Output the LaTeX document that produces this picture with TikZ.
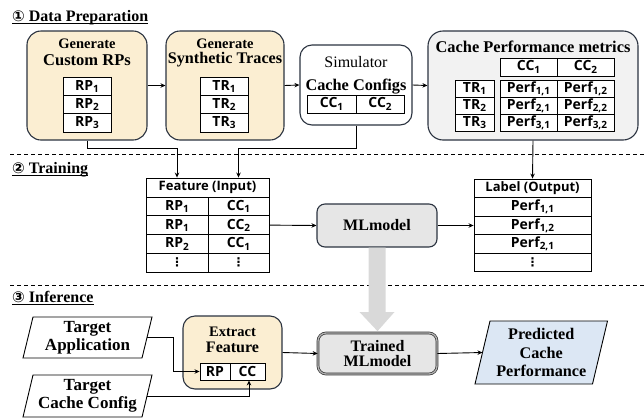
\documentclass[tikz,border=0pt]{standalone}
\usepackage{fontspec}
\setmainfont{Liberation Serif}
\newfontfamily\sansb{Open Sans}[BoldFont={* Bold}]
\newfontfamily\dvs{DejaVu Sans}
\usetikzlibrary{arrows.meta,calc,backgrounds}
\definecolor{bdr}{HTML}{2B3340}
\definecolor{beige}{HTML}{FBEED2}
\definecolor{perfgray}{HTML}{F2F2F2}
\definecolor{mlgray}{HTML}{E6E6E6}
\definecolor{biggray}{HTML}{D9D9D9}
\definecolor{predblue}{HTML}{DCE7F4}
\newcommand\fsz[1]{\fontsize{#1}{#1}\selectfont}
\newcommand\sub[1]{\raisebox{-2.2pt}{\fsz{10}#1}}
\newcommand\vdt{{\dvs\fsz{12}⋮}}
\newcommand\tcell[6]{\node[cell, minimum width=#4pt, minimum height=#5pt] (#1) at (#2,#3) {#6};}
\tikzset{
  beigebox/.style={draw=bdr, line width=1.1pt, fill=beige, rounded corners=14pt, inner sep=0pt},
  cell/.style={draw=black, line width=0.9pt, fill=white, inner sep=0pt, font=\sansb\bfseries\fsz{14}},
  hcell/.style={draw=black, line width=0.9pt, fill=white, inner sep=0pt, font=\sansb\bfseries\fsz{13}},
  ttl/.style={inner sep=0pt, font=\bfseries\fsz{16}},
  sect/.style={inner sep=0pt, anchor=base west, font=\bfseries\fsz{16}},
  uline/.style={line width=1pt},
  arr/.style={-{Stealth[length=5pt,width=4.5pt]}, line width=0.9pt},
  sep/.style={line width=0.9pt, dash pattern=on 4pt off 3pt},
}
\begin{document}
\begin{tikzpicture}[x=1pt,y=-1pt]
\useasboundingbox (0,0) rectangle (644,418);

% section titles
\node[sect] (s1) at (12,21) {{\dvs\fsz{15}①} Data Preparation};
\node[sect] (s2) at (12,173) {{\dvs\fsz{15}②} Training};
\node[sect] (s3) at (12,302) {{\dvs\fsz{15}③} Inference};
\draw[uline] ([yshift=-2.5pt]s1.base west) -- ([yshift=-2.5pt]s1.base east);
\draw[uline] ([yshift=-2.5pt]s2.base west) -- ([yshift=-2.5pt]s2.base east);
\draw[uline] ([yshift=-2.5pt]s3.base west) -- ([yshift=-2.5pt]s3.base east);

% separators
\coordinate (d1a) at (10,154); \coordinate (d1b) at (644,154);
\coordinate (d2a) at (10,285); \coordinate (d2b) at (644,285);
\draw[sep] (d1a) -- (d1b);
\draw[sep] (d2a) -- (d2b);

% ---------- Data preparation ----------
\node[beigebox, minimum width=120pt, minimum height=109pt] (b1) at (87,85.5) {};
\node[ttl, font=\bfseries\fsz{14.5}] (b1t1) at (87,44) {Generate};
\node[ttl, font=\bfseries\fsz{16.5}] (b1t2) at (87,60) {Custom RPs};
\tcell{rp1}{87}{86.2}{48}{18.3}{RP\sub{1}}
\tcell{rp2}{87}{104.5}{48}{18.3}{RP\sub{2}}
\tcell{rp3}{87}{122.8}{48}{18.3}{RP\sub{3}}

\node[beigebox, minimum width=118pt, minimum height=109pt] (b2) at (225,85.5) {};
\node[ttl, font=\bfseries\fsz{14.5}] (b2t1) at (225,44) {Generate};
\node[ttl, font=\bfseries\fsz{16.2}] (b2t2) at (225,60) {Synthetic Traces};
\tcell{tr1}{224}{86.2}{48}{18.3}{TR\sub{1}}
\tcell{tr2}{224}{104.5}{48}{18.3}{TR\sub{2}}
\tcell{tr3}{224}{122.8}{48}{18.3}{TR\sub{3}}

\node[draw=bdr, line width=1.1pt, fill=white, rounded corners=12pt, minimum width=112pt, minimum height=80pt, inner sep=0pt] (sim) at (356,85) {};
\node[inner sep=0pt, font=\fsz{16}] (simt) at (356,62) {Simulator};
\node[ttl, font=\bfseries\fsz{16.3}] (cct) at (356,87) {Cache Configs};
\tcell{scc1}{331.5}{104}{49}{18}{CC\sub{1}}
\tcell{scc2}{380}{104}{48}{18}{CC\sub{2}}

\node[draw=bdr, line width=1.1pt, fill=perfgray, rounded corners=15pt, minimum width=210pt, minimum height=109pt, inner sep=0pt] (perf) at (533,85.5) {};
\node[ttl, font=\bfseries\fsz{16.4}] (perft) at (533,47) {Cache Performance metrics};
\tcell{pcc1}{528.5}{67}{57}{18}{CC\sub{1}}
\tcell{pcc2}{585.5}{67}{57}{18}{CC\sub{2}}
\tcell{ptr1}{474.5}{88.5}{39}{17}{TR\sub{1}}
\tcell{ptr2}{474.5}{105.5}{39}{17}{TR\sub{2}}
\tcell{ptr3}{474.5}{122.5}{39}{17}{TR\sub{3}}
\tcell{p11}{528.5}{88.5}{57}{17}{Perf\sub{1,1}}
\tcell{p12}{585.5}{88.5}{57}{17}{Perf\sub{1,2}}
\tcell{p21}{528.5}{105.5}{57}{17}{Perf\sub{2,1}}
\tcell{p22}{585.5}{105.5}{57}{17}{Perf\sub{2,2}}
\tcell{p31}{528.5}{122.5}{57}{17}{Perf\sub{3,1}}
\tcell{p32}{585.5}{122.5}{57}{17}{Perf\sub{3,2}}

\draw[arr] (b1.east) -- (b2.west);
\draw[arr] (b2.east) -- (sim.west);
\draw[arr] (sim.east) -- (perf.west);

% ---------- Training ----------
\node[hcell, minimum width=123pt, minimum height=19pt] (fh) at (207.5,187.5) {Feature (Input)};
\tcell{f1a}{177}{206.4}{62}{18.75}{RP\sub{1}}
\tcell{f1b}{238.5}{206.4}{61}{18.75}{CC\sub{1}}
\tcell{f2a}{177}{225.1}{62}{18.75}{RP\sub{1}}
\tcell{f2b}{238.5}{225.1}{61}{18.75}{CC\sub{2}}
\tcell{f3a}{177}{243.9}{62}{18.75}{RP\sub{2}}
\tcell{f3b}{238.5}{243.9}{61}{18.75}{CC\sub{1}}
\tcell{f4a}{177}{262.6}{62}{18.75}{\vdt}
\tcell{f4b}{238.5}{262.6}{61}{18.75}{\vdt}

\node[hcell, minimum width=117pt, minimum height=19pt] (lh) at (532.5,188.5) {Label (Output)};
\tcell{l1}{532.5}{207}{117}{18.5}{Perf\sub{1,1}}
\tcell{l2}{532.5}{225.5}{117}{18.5}{Perf\sub{1,2}}
\tcell{l3}{532.5}{244}{117}{18.5}{Perf\sub{2,1}}
\tcell{l4}{532.5}{262.5}{117}{18.5}{\vdt}

\node[draw=bdr, line width=1.1pt, fill=mlgray, rounded corners=8pt, minimum width=120pt, minimum height=43pt, inner sep=0pt, font=\bfseries\fsz{16}] (ml) at (377,225.5) {MLmodel};

\draw[arr] (b1.south) -- ++(0,8) -| (fh.north -| f1a);
\draw[arr] (sim.south) -- ++(0,23) -| (fh.north -| f1b);
\draw[arr] (perf.south) -- (lh.north);
\draw[arr] (f2b.east) -- (ml.west);
\draw[arr] (ml.east) -- (l2.west);

% ---------- Inference ----------
\node[draw=black!80, line width=0.7pt, double=gray!60, double distance=1.3pt, fill=mlgray, rounded corners=8pt, minimum width=119pt, minimum height=41pt, inner sep=0pt, align=center, font=\bfseries\fsz{16}] (tml) at (377.5,353.5) {Trained\\[-1pt]MLmodel};

\coordinate (hb) at (377,312);
\fill[biggray] ([xshift=-8.5pt]ml.south) -- ([xshift=8.5pt]ml.south) -- ([xshift=8.5pt]hb) -- ([xshift=17.5pt]hb) -- ([yshift=1.5pt]tml.north) -- ([xshift=-17.5pt]hb) -- ([xshift=-8.5pt]hb) -- cycle;

\node[inner sep=0pt, outer sep=0pt, minimum width=119pt, minimum height=41pt, align=center, font=\bfseries\fsz{17}] (ta) at (87.5,337.5) {Target\\[1pt]Application};
\node[inner sep=0pt, outer sep=0pt, minimum width=119pt, minimum height=42pt, align=center, font=\bfseries\fsz{17}] (tcc) at (87.5,396) {Target\\[1pt]Cache Config};
\draw[line width=0.9pt] ([xshift=5pt]ta.north west) -- ([xshift=5pt]ta.north east) -- ([xshift=-5pt]ta.south east) -- ([xshift=-5pt]ta.south west) -- cycle;
\draw[line width=0.9pt] ([xshift=5pt]tcc.north west) -- ([xshift=5pt]tcc.north east) -- ([xshift=-5pt]tcc.south east) -- ([xshift=-5pt]tcc.south west) -- cycle;

\node[beigebox, rounded corners=12pt, minimum width=99pt, minimum height=73pt] (ef) at (232.5,352.5) {};
\node[ttl, font=\bfseries\fsz{14.5}] (eft1) at (232.5,332) {Extract};
\node[ttl, font=\bfseries\fsz{16}] (eft2) at (232.5,347) {Feature};
\tcell{efrp}{215}{371.5}{30}{17}{RP}
\tcell{efcc}{247.5}{371.5}{35}{17}{CC}

\node[inner sep=0pt, outer sep=0pt, minimum width=117.5pt, minimum height=63pt, align=center, font=\bfseries\fsz{16.2}] (pred) at (541.25,352.5) {Predicted\\[2pt]Cache\\[2pt]Performance};
\begin{scope}[on background layer]
\draw[line width=0.9pt, fill=predblue] ([xshift=7.5pt]pred.north west) -- ([xshift=7.5pt]pred.north east) -- ([xshift=-7.5pt]pred.south east) -- ([xshift=-7.5pt]pred.south west) -- cycle;
\end{scope}

\draw[arr] (ta.east) -- ++(26,0) |- (efrp.west);
\draw[arr] (tcc.east) -| ([xshift=1.5pt]efcc.south);
\draw[arr] (ef.east) -- (tml.west);
\draw[arr] (tml.east) -- (pred.west);
\end{tikzpicture}
\end{document}
